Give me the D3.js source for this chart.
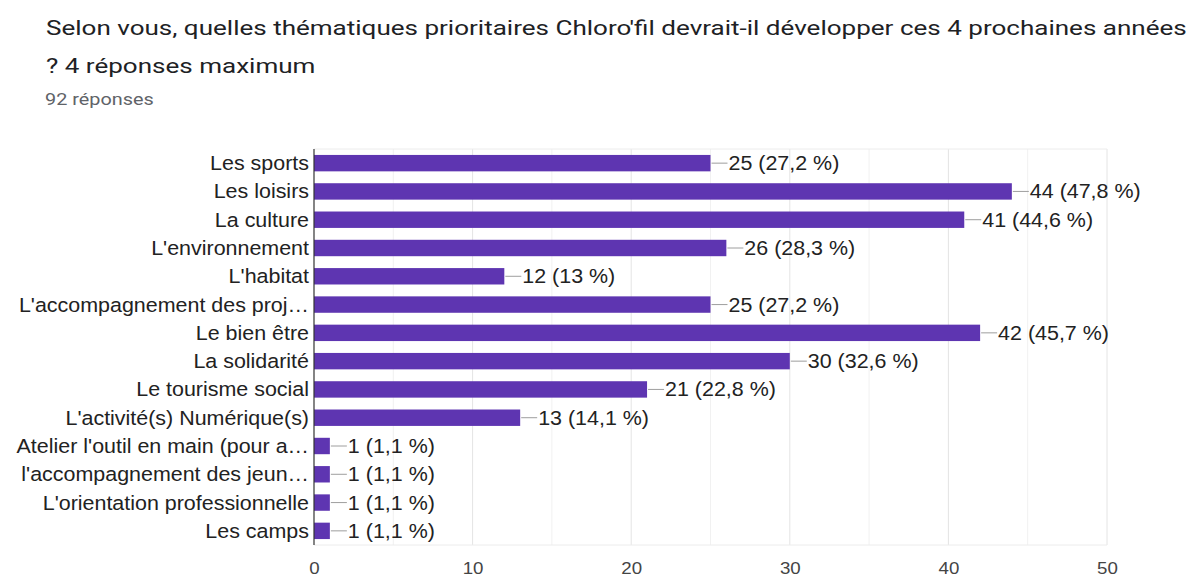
<!DOCTYPE html>
<html><head><meta charset="utf-8">
<script src="https://cdn.jsdelivr.net/npm/d3@7"></script>
<style>body{margin:0;background:#fff;overflow:hidden}</style>
</head><body>
<svg id="c" width="1195" height="580"></svg>
<script>
const categories = ["Les sports","Les loisirs","La culture","L'environnement","L'habitat","L'accompagnement des proj…","Le bien être","La solidarité","Le tourisme social","L'activité(s) Numérique(s)","Atelier l'outil en main (pour a…","l'accompagnement des jeun…","L'orientation professionnelle","Les camps"];
const counts = [25,44,41,26,12,25,42,30,21,13,1,1,1,1];
const percents = ["27,2","47,8","44,6","28,3","13","27,2","45,7","32,6","22,8","14,1","1,1","1,1","1,1","1,1"];
const xTicks = [0,10,20,30,40,50];
const titleLines = ["Selon vous, quelles thématiques prioritaires Chloro'fil devrait-il développer ces 4 prochaines années","? 4 réponses maximum"];
const subtitle = "92 réponses";

const svg = d3.select("#c");
const SX_T = 1.24, SX_L = 1.1;
function stext(sel, x, y, sx, txt, size, fam, fill, anchor){
  return sel.append("text").attr("transform",`translate(${x},${y}) scale(${sx},1)`)
    .attr("font-family",fam).attr("font-size",size).attr("fill",fill)
    .attr("text-anchor",anchor||"start").text(txt);
}
stext(svg,46,35,SX_T,titleLines[0],21,"Roboto","#202124");
stext(svg,46,73,SX_T,titleLines[1],21,"Roboto","#202124");
stext(svg,45,105,SX_T,subtitle,16,"Roboto","#5f6368");

const pLeft=314, pRight=1107, pTop=149, pBottom=545;
const x = d3.scaleLinear().domain([0,50]).range([pLeft,pRight]);
const y = d3.scaleBand().domain(categories).range([pTop,pBottom]).paddingInner(0.42).paddingOuter(0.21);
const FONT = "Liberation Sans, Arial";

const g = svg.append("g");
g.selectAll("line.grid").data(d3.range(5,51,5)).join("line")
 .attr("x1",d=>x(d)).attr("x2",d=>x(d)).attr("y1",pTop).attr("y2",pBottom)
 .attr("stroke",d=>d%10===0?"#e4e4e4":"#f1f1f1").attr("stroke-width",1);
g.append("line").attr("x1",pLeft).attr("x2",pRight).attr("y1",pTop).attr("y2",pTop).attr("stroke","#ececec");
g.append("line").attr("x1",pLeft).attr("x2",pRight).attr("y1",pBottom).attr("y2",pBottom).attr("stroke","#ececec");

g.selectAll("rect.bar").data(categories).join("rect")
 .attr("x",pLeft).attr("y",d=>y(d)).attr("width",(d,i)=>x(counts[i])-pLeft).attr("height",y.bandwidth())
 .attr("fill","#5e35b1");

g.selectAll("line.lead").data(categories).join("line")
 .attr("x1",(d,i)=>x(counts[i])+1).attr("x2",(d,i)=>x(counts[i])+17)
 .attr("y1",d=>y(d)+y.bandwidth()/2).attr("y2",d=>y(d)+y.bandwidth()/2)
 .attr("stroke","#9e9e9e").attr("stroke-width",1);

categories.forEach((c,i)=>{
  const cy = y(c)+y.bandwidth()/2 + 7;
  stext(g, x(counts[i])+18, cy, SX_L, counts[i]+" ("+percents[i]+" %)", 19.5, FONT, "#222");
  stext(g, pLeft-5, cy, SX_L, c, 19.5, FONT, "#222", "end");
});

g.append("line").attr("x1",pLeft).attr("x2",pLeft).attr("y1",pTop).attr("y2",pBottom).attr("stroke","#333").attr("stroke-width",1.2);

const ax = svg.append("g").attr("transform",`translate(0,${pBottom})`)
 .call(d3.axisBottom(x).tickValues(xTicks).tickSize(0).tickPadding(0));
ax.select(".domain").remove();
ax.selectAll(".tick text").attr("dy",null).attr("y",null)
 .attr("transform",`translate(0,29) scale(${SX_L},1)`)
 .attr("font-family",FONT).attr("font-size",17).attr("fill","#444");
</script>
</body></html>
